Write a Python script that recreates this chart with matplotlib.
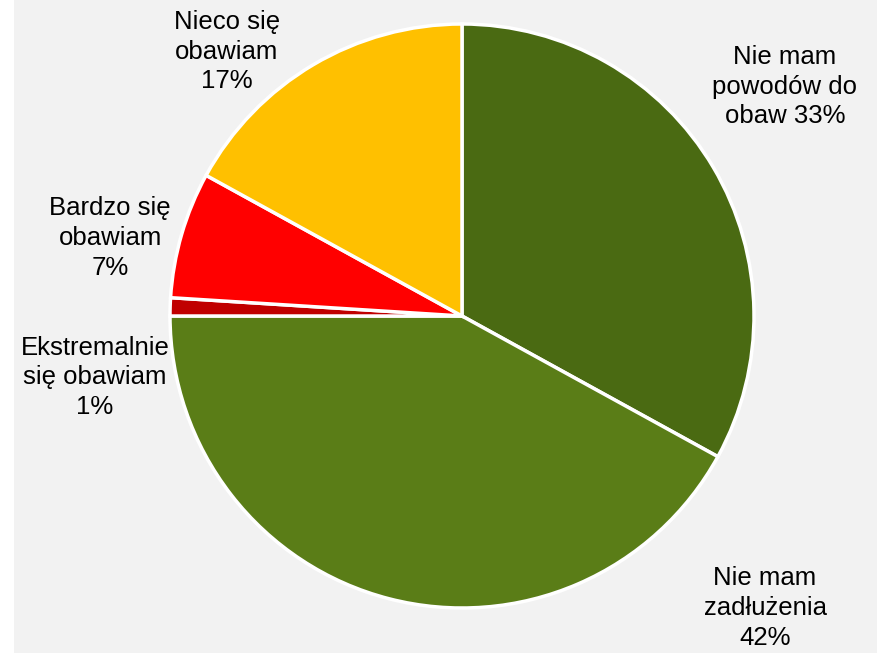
import matplotlib
matplotlib.use("Agg")
import matplotlib.pyplot as plt
import numpy as np

# data
labels = ["Nie mam\npowodów do\nobaw 33%",
          "Nie mam\nzadłużenia\n42%",
          "Ekstremalnie\nsię obawiam\n1%",
          "Bardzo się\nobawiam\n7%",
          "Nieco się\nobawiam\n17%"]
values = [33, 42, 1, 7, 17]
colors = ["#4A6A12", "#5A7D17", "#C00000", "#FF0000", "#FFC000"]

# label placement (data units, pie radius = 1)
label_pos = [(1.106, 0.785), (1.038, -1.0), (-1.257, -0.21), (-1.205, 0.267), (-0.805, 0.905)]

plt.rcParams['font.family'] = ['Liberation Sans', 'DejaVu Sans']

fig = plt.figure(figsize=(8.78, 6.53), dpi=100, facecolor="white")
left_px = 14
ax = fig.add_axes([left_px / 878, 0, 1 - left_px / 878, 1])

wedges, _ = ax.pie(values, colors=colors, startangle=90, counterclock=False,
                   radius=1, wedgeprops=dict(edgecolor="white", linewidth=2.5))

for txt, (x, y) in zip(labels, label_pos):
    ax.text(x, y, txt, ha="center", va="center", fontsize=18.5,
            linespacing=1.3, color="black")

# pixel mapping: center at (462, 316), radius 292 px
cx, cy, r = 462, 316, 292
ax.set_xlim(-(cx - left_px) / r, (878 - cx) / r)
ax.set_ylim(-(653 - cy) / r, cy / r)
ax.set_aspect("auto")
ax.set_frame_on(True)
ax.patch.set_visible(True)
ax.set_facecolor("#F2F2F2")
for s in ax.spines.values():
    s.set_visible(False)
ax.set_xticks([])
ax.set_yticks([])

fig.savefig("out.png", dpi=100, facecolor=fig.get_facecolor())
